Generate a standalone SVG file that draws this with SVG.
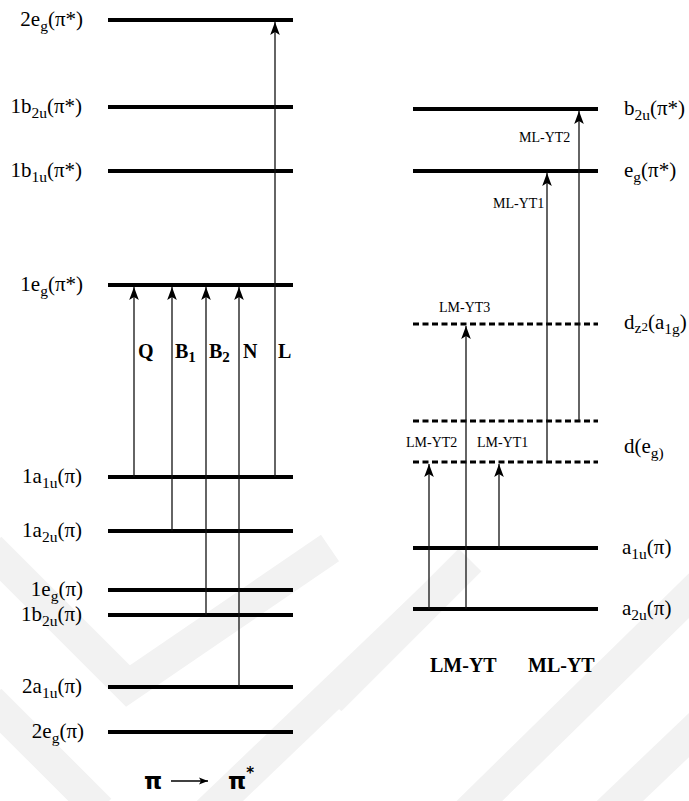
<svg xmlns="http://www.w3.org/2000/svg" width="689" height="801" viewBox="0 0 689 801">
<style>
.lvl{stroke:#000;stroke-width:4;fill:none}
.dash{stroke:#000;stroke-width:3;stroke-dasharray:6 3.5;fill:none}
.arr{stroke:#111;stroke-width:1.3;fill:none;marker-end:url(#ah)}
.lab{font-family:"Liberation Serif","Times New Roman",serif;font-size:21px;fill:#000}
.sub{font-size:15.5px}
.sm{font-family:"Liberation Serif","Times New Roman",serif;font-size:14px;fill:#000}
.bold{font-family:"Liberation Serif","Times New Roman",serif;font-size:20px;font-weight:bold;fill:#000}
.pi{font-family:"DejaVu Sans","Liberation Sans",sans-serif;font-size:23px;font-weight:bold;fill:#000}
.wm{stroke:#f2f2f2;stroke-width:32;fill:none;stroke-linejoin:miter}
</style>
<defs>
<marker id="ah" markerUnits="userSpaceOnUse" markerWidth="14" markerHeight="12" viewBox="-13 -6 14 12" refX="0" refY="0" orient="auto">
<path d="M0,0 L-13,-4.8 L-10,0 L-13,4.8 Z" fill="#000"/>
</marker>
<marker id="ah2" markerUnits="userSpaceOnUse" markerWidth="12" markerHeight="10" viewBox="-10 -5 11 10" refX="0" refY="0" orient="auto">
<path d="M0,0 L-9,-3.5 L-7,0 L-9,3.5 Z" fill="#000"/>
</marker>
</defs>
<rect width="689" height="801" fill="#fff"/>
<g id="watermark">
<polyline class="wm" points="-10,548 128,686 330,548"/>
<path class="wm" d="M-10,700 L100,810"/>
<path class="wm" d="M200,820 L430,600"/>
<path class="wm" d="M330,700 L470,560"/>
<path class="wm" d="M460,820 L710,575"/>
<path class="wm" d="M600,820 L710,715"/>
</g>
<g id="left-levels">
<g id="L-2eg-pistar"><line class="lvl" x1="108" y1="20" x2="293" y2="20"/><text class="lab" x="83" y="26" text-anchor="end">2e<tspan class="sub" dy="5">g</tspan><tspan dy="-5">(π*)</tspan></text></g>
<g id="L-1b2u-pistar"><line class="lvl" x1="108" y1="107" x2="293" y2="107"/><text class="lab" x="82" y="113" text-anchor="end">1b<tspan class="sub" dy="5">2u</tspan><tspan dy="-5">(π*)</tspan></text></g>
<g id="L-1b1u-pistar"><line class="lvl" x1="108" y1="171" x2="293" y2="171"/><text class="lab" x="82" y="177" text-anchor="end">1b<tspan class="sub" dy="5">1u</tspan><tspan dy="-5">(π*)</tspan></text></g>
<g id="L-1eg-pistar"><line class="lvl" x1="108" y1="285" x2="293" y2="285"/><text class="lab" x="83" y="291" text-anchor="end">1e<tspan class="sub" dy="5">g</tspan><tspan dy="-5">(π*)</tspan></text></g>
<g id="L-1a1u-pi"><line class="lvl" x1="108" y1="477" x2="293" y2="477"/><text class="lab" x="82" y="483" text-anchor="end">1a<tspan class="sub" dy="5">1u</tspan><tspan dy="-5">(π)</tspan></text></g>
<g id="L-1a2u-pi"><line class="lvl" x1="108" y1="531" x2="293" y2="531"/><text class="lab" x="82" y="537" text-anchor="end">1a<tspan class="sub" dy="5">2u</tspan><tspan dy="-5">(π)</tspan></text></g>
<g id="L-1eg-pi"><line class="lvl" x1="108" y1="590" x2="293" y2="590"/><text class="lab" x="83" y="596" text-anchor="end">1e<tspan class="sub" dy="5">g</tspan><tspan dy="-5">(π)</tspan></text></g>
<g id="L-1b2u-pi"><line class="lvl" x1="108" y1="615" x2="293" y2="615"/><text class="lab" x="82" y="621" text-anchor="end">1b<tspan class="sub" dy="5">2u</tspan><tspan dy="-5">(π)</tspan></text></g>
<g id="L-2a1u-pi"><line class="lvl" x1="108" y1="687" x2="293" y2="687"/><text class="lab" x="82" y="693" text-anchor="end">2a<tspan class="sub" dy="5">1u</tspan><tspan dy="-5">(π)</tspan></text></g>
<g id="L-2eg-pi"><line class="lvl" x1="108" y1="732" x2="293" y2="732"/><text class="lab" x="84" y="738" text-anchor="end">2e<tspan class="sub" dy="5">g</tspan><tspan dy="-5">(π)</tspan></text></g>
</g>
<g id="right-levels">
<g id="R-b2u"><line class="lvl" x1="413" y1="109" x2="598" y2="109"/><text class="lab" x="624" y="115">b<tspan class="sub" dy="5">2u</tspan><tspan dy="-5">(π*)</tspan></text></g>
<g id="R-eg"><line class="lvl" x1="413" y1="171" x2="598" y2="171"/><text class="lab" x="624" y="177">e<tspan class="sub" dy="5">g</tspan><tspan dy="-5">(π*)</tspan></text></g>
<g id="R-dz2"><line class="dash" x1="413" y1="324" x2="598" y2="324"/><text class="lab" x="624" y="329">d<tspan class="sub" font-size="13" dy="4">z</tspan><tspan font-size="13" dy="-2">2</tspan><tspan dy="-2">(a</tspan><tspan class="sub" dy="5">1g</tspan><tspan dy="-5">)</tspan></text></g>
<g id="R-deg"><line class="dash" x1="413" y1="421" x2="598" y2="421"/><line class="dash" x1="413" y1="462" x2="598" y2="462"/><text class="lab" x="624" y="453">d(e<tspan class="sub" dy="5">g)</tspan></text></g>
<g id="R-a1u"><line class="lvl" x1="413" y1="548" x2="598" y2="548"/><text class="lab" x="622" y="554">a<tspan class="sub" dy="5">1u</tspan><tspan dy="-5">(π)</tspan></text></g>
<g id="R-a2u"><line class="lvl" x1="413" y1="609" x2="598" y2="609"/><text class="lab" x="622" y="615">a<tspan class="sub" dy="5">2u</tspan><tspan dy="-5">(π)</tspan></text></g>
</g>
<g id="connectors">
<line class="arr" x1="134" y1="477" x2="134" y2="287"/>
<line class="arr" x1="172" y1="531" x2="172" y2="287"/>
<line class="arr" x1="206" y1="615" x2="206" y2="287"/>
<line class="arr" x1="239" y1="687" x2="239" y2="287"/>
<line class="arr" x1="275" y1="477" x2="275" y2="22"/>
<line class="arr" x1="547" y1="462" x2="547" y2="173"/>
<line class="arr" x1="579" y1="421" x2="579" y2="111"/>
<line class="arr" x1="466" y1="609" x2="466" y2="326"/>
<line class="arr" x1="429" y1="609" x2="429" y2="464"/>
<line class="arr" x1="499" y1="548" x2="499" y2="464"/>
</g>
<g id="transition-labels">
<text class="bold" x="138" y="358">Q</text>
<text class="bold" x="175" y="358">B<tspan font-size="15" dy="4">1</tspan></text>
<text class="bold" x="209" y="358">B<tspan font-size="15" dy="4">2</tspan></text>
<text class="bold" x="243" y="358">N</text>
<text class="bold" x="278" y="358">L</text>
<text class="sm" x="519" y="142">ML-YT2</text>
<text class="sm" x="493" y="208">ML-YT1</text>
<text class="sm" x="439" y="312">LM-YT3</text>
<text class="sm" x="406" y="447">LM-YT2</text>
<text class="sm" x="477" y="447">LM-YT1</text>
<text class="bold" x="430" y="672">LM-YT</text>
<text class="bold" x="528" y="672">ML-YT</text>
</g>
<g id="pi-caption">
<text class="pi" x="144" y="789">π</text>
<line x1="171" y1="781" x2="208" y2="781" stroke="#000" stroke-width="1.3" marker-end="url(#ah2)"/>
<text class="pi" x="228" y="789">π<tspan font-size="15" dy="-11">*</tspan></text>
</g>
</svg>
